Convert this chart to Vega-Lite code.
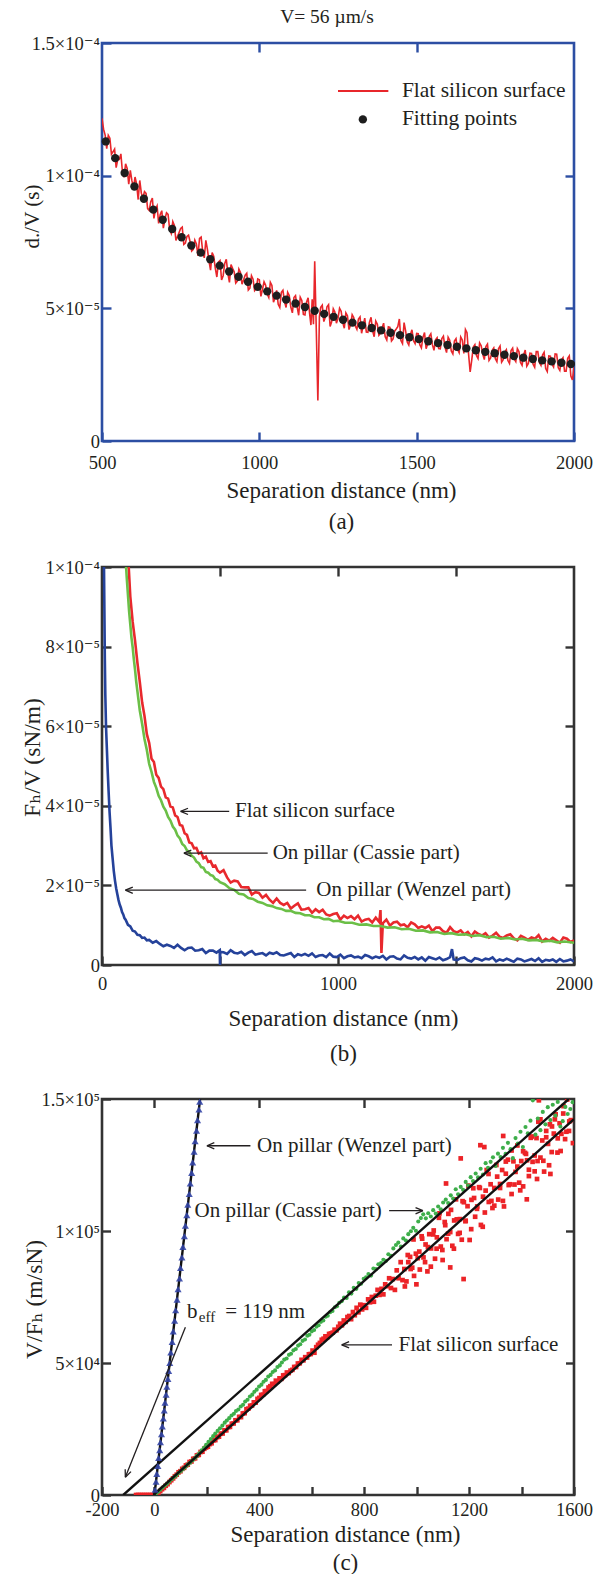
{
"$schema":"https://vega.github.io/schema/vega-lite/v6.json",
"padding":{"left":18,"top":5,"right":5,"bottom":5},
"background":"white",
"spacing":21,
"config":{
"font":"Liberation Serif, Times New Roman, DejaVu Serif, serif",
"view":{"stroke":"#333333","strokeWidth":2.6},
"axis":{"grid":false,"domain":false,"labelFont":"Liberation Serif, Times New Roman, DejaVu Serif, serif","titleFont":"Liberation Serif, Times New Roman, DejaVu Serif, serif","labelFontSize":18.5,"titleFontSize":23,"titleFontWeight":"normal","labelColor":"#231f20","titleColor":"#231f20","tickColor":"#333333","tickWidth":2.4,"tickSize":-9,"labelFlush":false,"labelOverlap":false},
"text":{"font":"Liberation Serif, Times New Roman, DejaVu Serif, serif","color":"#231f20"}
},
"datasets":{
"a_red":[{"d":500,"v":1.216e-4},{"d":505,"v":1.175e-4},{"d":510,"v":1.153e-4},{"d":515,"v":1.102e-4},{"d":520,"v":1.152e-4},{"d":525,"v":1.141e-4},{"d":530,"v":1.081e-4},{"d":535,"v":1.090e-4},{"d":540,"v":1.100e-4},{"d":545,"v":1.030e-4},{"d":550,"v":1.061e-4},{"d":555,"v":1.061e-4},{"d":560,"v":1.082e-4},{"d":565,"v":1.013e-4},{"d":570,"v":0.994e-4},{"d":575,"v":1.045e-4},{"d":580,"v":1.027e-4},{"d":585,"v":0.968e-4},{"d":590,"v":1.020e-4},{"d":595,"v":0.981e-4},{"d":600,"v":0.953e-4},{"d":605,"v":0.995e-4},{"d":610,"v":0.968e-4},{"d":615,"v":0.910e-4},{"d":620,"v":0.982e-4},{"d":625,"v":0.934e-4},{"d":630,"v":0.917e-4},{"d":635,"v":0.940e-4},{"d":640,"v":0.933e-4},{"d":645,"v":0.876e-4},{"d":650,"v":0.869e-4},{"d":655,"v":0.902e-4},{"d":660,"v":0.916e-4},{"d":665,"v":0.839e-4},{"d":670,"v":0.873e-4},{"d":675,"v":0.886e-4},{"d":680,"v":0.820e-4},{"d":685,"v":0.854e-4},{"d":690,"v":0.868e-4},{"d":695,"v":0.802e-4},{"d":700,"v":0.836e-4},{"d":705,"v":0.860e-4},{"d":710,"v":0.854e-4},{"d":715,"v":0.798e-4},{"d":720,"v":0.783e-4},{"d":725,"v":0.827e-4},{"d":730,"v":0.812e-4},{"d":735,"v":0.756e-4},{"d":740,"v":0.771e-4},{"d":745,"v":0.786e-4},{"d":750,"v":0.801e-4},{"d":755,"v":0.806e-4},{"d":760,"v":0.741e-4},{"d":765,"v":0.746e-4},{"d":770,"v":0.771e-4},{"d":775,"v":0.776e-4},{"d":780,"v":0.751e-4},{"d":785,"v":0.716e-4},{"d":790,"v":0.722e-4},{"d":795,"v":0.757e-4},{"d":800,"v":0.743e-4},{"d":805,"v":0.698e-4},{"d":810,"v":0.764e-4},{"d":815,"v":0.769e-4},{"d":820,"v":0.715e-4},{"d":825,"v":0.690e-4},{"d":830,"v":0.756e-4},{"d":835,"v":0.722e-4},{"d":840,"v":0.678e-4},{"d":845,"v":0.644e-4},{"d":850,"v":0.710e-4},{"d":855,"v":0.696e-4},{"d":860,"v":0.652e-4},{"d":865,"v":0.618e-4},{"d":870,"v":0.674e-4},{"d":875,"v":0.680e-4},{"d":880,"v":0.607e-4},{"d":885,"v":0.623e-4},{"d":890,"v":0.669e-4},{"d":895,"v":0.685e-4},{"d":900,"v":0.632e-4},{"d":905,"v":0.598e-4},{"d":910,"v":0.665e-4},{"d":915,"v":0.651e-4},{"d":920,"v":0.638e-4},{"d":925,"v":0.595e-4},{"d":930,"v":0.602e-4},{"d":935,"v":0.648e-4},{"d":940,"v":0.635e-4},{"d":945,"v":0.591e-4},{"d":950,"v":0.608e-4},{"d":955,"v":0.625e-4},{"d":960,"v":0.632e-4},{"d":965,"v":0.569e-4},{"d":970,"v":0.576e-4},{"d":975,"v":0.623e-4},{"d":980,"v":0.610e-4},{"d":985,"v":0.567e-4},{"d":990,"v":0.574e-4},{"d":995,"v":0.611e-4},{"d":1000,"v":0.608e-4},{"d":1005,"v":0.545e-4},{"d":1010,"v":0.572e-4},{"d":1015,"v":0.600e-4},{"d":1020,"v":0.587e-4},{"d":1025,"v":0.554e-4},{"d":1030,"v":0.541e-4},{"d":1035,"v":0.598e-4},{"d":1040,"v":0.586e-4},{"d":1045,"v":0.523e-4},{"d":1050,"v":0.540e-4},{"d":1055,"v":0.568e-4},{"d":1060,"v":0.515e-4},{"d":1065,"v":0.503e-4},{"d":1070,"v":0.560e-4},{"d":1075,"v":0.568e-4},{"d":1080,"v":0.525e-4},{"d":1085,"v":0.503e-4},{"d":1090,"v":0.560e-4},{"d":1095,"v":0.548e-4},{"d":1100,"v":0.505e-4},{"d":1105,"v":0.483e-4},{"d":1110,"v":0.541e-4},{"d":1115,"v":0.548e-4},{"d":1120,"v":0.506e-4},{"d":1125,"v":0.474e-4},{"d":1130,"v":0.542e-4},{"d":1135,"v":0.530e-4},{"d":1140,"v":0.477e-4},{"d":1145,"v":0.475e-4},{"d":1150,"v":0.523e-4},{"d":1155,"v":0.540e-4},{"d":1160,"v":0.478e-4},{"d":1164,"v":0.437e-4},{"d":1168,"v":0.534e-4},{"d":1172,"v":0.440e-4},{"d":1176,"v":0.677e-4},{"d":1181,"v":0.420e-4},{"d":1186,"v":0.153e-4},{"d":1191,"v":0.470e-4},{"d":1195,"v":0.504e-4},{"d":1200,"v":0.512e-4},{"d":1205,"v":0.450e-4},{"d":1210,"v":0.468e-4},{"d":1215,"v":0.506e-4},{"d":1220,"v":0.514e-4},{"d":1225,"v":0.432e-4},{"d":1230,"v":0.450e-4},{"d":1235,"v":0.498e-4},{"d":1240,"v":0.486e-4},{"d":1245,"v":0.444e-4},{"d":1250,"v":0.462e-4},{"d":1255,"v":0.500e-4},{"d":1260,"v":0.489e-4},{"d":1265,"v":0.447e-4},{"d":1270,"v":0.425e-4},{"d":1275,"v":0.483e-4},{"d":1280,"v":0.472e-4},{"d":1285,"v":0.420e-4},{"d":1290,"v":0.438e-4},{"d":1295,"v":0.476e-4},{"d":1300,"v":0.465e-4},{"d":1305,"v":0.433e-4},{"d":1310,"v":0.421e-4},{"d":1315,"v":0.460e-4},{"d":1320,"v":0.468e-4},{"d":1325,"v":0.406e-4},{"d":1330,"v":0.435e-4},{"d":1335,"v":0.463e-4},{"d":1340,"v":0.411e-4},{"d":1345,"v":0.410e-4},{"d":1350,"v":0.448e-4},{"d":1355,"v":0.466e-4},{"d":1360,"v":0.415e-4},{"d":1365,"v":0.393e-4},{"d":1370,"v":0.452e-4},{"d":1375,"v":0.440e-4},{"d":1380,"v":0.399e-4},{"d":1385,"v":0.407e-4},{"d":1390,"v":0.426e-4},{"d":1395,"v":0.444e-4},{"d":1400,"v":0.393e-4},{"d":1405,"v":0.381e-4},{"d":1410,"v":0.430e-4},{"d":1415,"v":0.428e-4},{"d":1420,"v":0.377e-4},{"d":1425,"v":0.385e-4},{"d":1430,"v":0.414e-4},{"d":1435,"v":0.422e-4},{"d":1440,"v":0.431e-4},{"d":1445,"v":0.460e-4},{"d":1450,"v":0.379e-4},{"d":1455,"v":0.367e-4},{"d":1460,"v":0.446e-4},{"d":1465,"v":0.414e-4},{"d":1470,"v":0.373e-4},{"d":1475,"v":0.362e-4},{"d":1480,"v":0.401e-4},{"d":1485,"v":0.419e-4},{"d":1490,"v":0.378e-4},{"d":1495,"v":0.367e-4},{"d":1500,"v":0.405e-4},{"d":1505,"v":0.404e-4},{"d":1510,"v":0.363e-4},{"d":1515,"v":0.351e-4},{"d":1520,"v":0.390e-4},{"d":1525,"v":0.409e-4},{"d":1530,"v":0.348e-4},{"d":1535,"v":0.366e-4},{"d":1540,"v":0.395e-4},{"d":1545,"v":0.404e-4},{"d":1550,"v":0.363e-4},{"d":1555,"v":0.342e-4},{"d":1560,"v":0.381e-4},{"d":1565,"v":0.389e-4},{"d":1570,"v":0.348e-4},{"d":1575,"v":0.347e-4},{"d":1580,"v":0.386e-4},{"d":1585,"v":0.395e-4},{"d":1590,"v":0.354e-4},{"d":1595,"v":0.333e-4},{"d":1600,"v":0.391e-4},{"d":1605,"v":0.380e-4},{"d":1610,"v":0.339e-4},{"d":1615,"v":0.328e-4},{"d":1620,"v":0.377e-4},{"d":1625,"v":0.386e-4},{"d":1630,"v":0.345e-4},{"d":1635,"v":0.333e-4},{"d":1640,"v":0.392e-4},{"d":1645,"v":0.381e-4},{"d":1650,"v":0.330e-4},{"d":1655,"v":0.420e-4},{"d":1660,"v":0.408e-4},{"d":1665,"v":0.327e-4},{"d":1670,"v":0.260e-4},{"d":1675,"v":0.305e-4},{"d":1680,"v":0.354e-4},{"d":1685,"v":0.363e-4},{"d":1690,"v":0.322e-4},{"d":1695,"v":0.311e-4},{"d":1700,"v":0.370e-4},{"d":1705,"v":0.359e-4},{"d":1710,"v":0.328e-4},{"d":1715,"v":0.307e-4},{"d":1720,"v":0.356e-4},{"d":1725,"v":0.365e-4},{"d":1730,"v":0.304e-4},{"d":1735,"v":0.313e-4},{"d":1740,"v":0.342e-4},{"d":1745,"v":0.351e-4},{"d":1750,"v":0.310e-4},{"d":1755,"v":0.299e-4},{"d":1760,"v":0.348e-4},{"d":1765,"v":0.358e-4},{"d":1770,"v":0.297e-4},{"d":1775,"v":0.306e-4},{"d":1780,"v":0.335e-4},{"d":1785,"v":0.344e-4},{"d":1790,"v":0.303e-4},{"d":1795,"v":0.292e-4},{"d":1800,"v":0.341e-4},{"d":1805,"v":0.350e-4},{"d":1810,"v":0.309e-4},{"d":1815,"v":0.299e-4},{"d":1820,"v":0.348e-4},{"d":1825,"v":0.337e-4},{"d":1830,"v":0.296e-4},{"d":1835,"v":0.285e-4},{"d":1840,"v":0.324e-4},{"d":1845,"v":0.343e-4},{"d":1850,"v":0.282e-4},{"d":1855,"v":0.292e-4},{"d":1860,"v":0.331e-4},{"d":1865,"v":0.330e-4},{"d":1870,"v":0.289e-4},{"d":1875,"v":0.278e-4},{"d":1880,"v":0.337e-4},{"d":1885,"v":0.337e-4},{"d":1890,"v":0.296e-4},{"d":1895,"v":0.285e-4},{"d":1900,"v":0.324e-4},{"d":1905,"v":0.334e-4},{"d":1910,"v":0.273e-4},{"d":1915,"v":0.262e-4},{"d":1920,"v":0.321e-4},{"d":1925,"v":0.320e-4},{"d":1930,"v":0.289e-4},{"d":1935,"v":0.279e-4},{"d":1940,"v":0.328e-4},{"d":1945,"v":0.327e-4},{"d":1950,"v":0.276e-4},{"d":1955,"v":0.266e-4},{"d":1960,"v":0.305e-4},{"d":1965,"v":0.314e-4},{"d":1970,"v":0.263e-4},{"d":1975,"v":0.263e-4},{"d":1980,"v":0.312e-4},{"d":1985,"v":0.321e-4},{"d":1990,"v":0.245e-4},{"d":1995,"v":0.230e-4},{"d":2000,"v":0.279e-4}],
"a_fit":[{"d":512,"v":1.129e-4},{"d":542,"v":1.066e-4},{"d":572,"v":1.010e-4},{"d":603,"v":0.959e-4},{"d":633,"v":0.913e-4},{"d":663,"v":0.872e-4},{"d":693,"v":0.834e-4},{"d":723,"v":0.799e-4},{"d":753,"v":0.768e-4},{"d":784,"v":0.737e-4},{"d":814,"v":0.710e-4},{"d":844,"v":0.685e-4},{"d":874,"v":0.661e-4},{"d":904,"v":0.639e-4},{"d":934,"v":0.619e-4},{"d":964,"v":0.600e-4},{"d":995,"v":0.581e-4},{"d":1025,"v":0.564e-4},{"d":1055,"v":0.548e-4},{"d":1085,"v":0.533e-4},{"d":1115,"v":0.518e-4},{"d":1145,"v":0.505e-4},{"d":1176,"v":0.491e-4},{"d":1206,"v":0.479e-4},{"d":1236,"v":0.468e-4},{"d":1266,"v":0.457e-4},{"d":1296,"v":0.446e-4},{"d":1326,"v":0.436e-4},{"d":1357,"v":0.426e-4},{"d":1387,"v":0.417e-4},{"d":1417,"v":0.408e-4},{"d":1447,"v":0.399e-4},{"d":1477,"v":0.391e-4},{"d":1507,"v":0.384e-4},{"d":1537,"v":0.376e-4},{"d":1568,"v":0.369e-4},{"d":1598,"v":0.362e-4},{"d":1628,"v":0.355e-4},{"d":1658,"v":0.349e-4},{"d":1688,"v":0.342e-4},{"d":1718,"v":0.336e-4},{"d":1748,"v":0.331e-4},{"d":1779,"v":0.325e-4},{"d":1809,"v":0.320e-4},{"d":1839,"v":0.314e-4},{"d":1869,"v":0.309e-4},{"d":1899,"v":0.304e-4},{"d":1929,"v":0.300e-4},{"d":1960,"v":0.295e-4},{"d":1990,"v":0.290e-4}],
"b_flat":[{"d":110,"v":1.035e-4},{"d":120,"v":0.925e-4},{"d":130,"v":0.862e-4},{"d":140,"v":0.815e-4},{"d":150,"v":0.760e-4},{"d":160,"v":0.712e-4},{"d":170,"v":0.660e-4},{"d":180,"v":0.626e-4},{"d":190,"v":0.580e-4},{"d":200,"v":0.558e-4},{"d":210,"v":0.518e-4},{"d":220,"v":0.510e-4},{"d":230,"v":0.478e-4},{"d":240,"v":0.470e-4},{"d":250,"v":0.448e-4},{"d":260,"v":0.442e-4},{"d":270,"v":0.421e-4},{"d":280,"v":0.418e-4},{"d":290,"v":0.398e-4},{"d":300,"v":0.396e-4},{"d":310,"v":0.376e-4},{"d":320,"v":0.372e-4},{"d":330,"v":0.352e-4},{"d":340,"v":0.350e-4},{"d":350,"v":0.331e-4},{"d":360,"v":0.327e-4},{"d":370,"v":0.308e-4},{"d":380,"v":0.306e-4},{"d":390,"v":0.293e-4},{"d":400,"v":0.294e-4},{"d":410,"v":0.280e-4},{"d":420,"v":0.283e-4},{"d":430,"v":0.268e-4},{"d":440,"v":0.272e-4},{"d":450,"v":0.259e-4},{"d":460,"v":0.261e-4},{"d":470,"v":0.248e-4},{"d":480,"v":0.250e-4},{"d":490,"v":0.237e-4},{"d":500,"v":0.232e-4},{"d":515,"v":0.238e-4},{"d":530,"v":0.220e-4},{"d":545,"v":0.207e-4},{"d":560,"v":0.212e-4},{"d":575,"v":0.210e-4},{"d":590,"v":0.196e-4},{"d":605,"v":0.195e-4},{"d":620,"v":0.195e-4},{"d":635,"v":0.177e-4},{"d":650,"v":0.183e-4},{"d":665,"v":0.181e-4},{"d":680,"v":0.169e-4},{"d":695,"v":0.176e-4},{"d":710,"v":0.164e-4},{"d":725,"v":0.156e-4},{"d":740,"v":0.167e-4},{"d":755,"v":0.156e-4},{"d":770,"v":0.151e-4},{"d":785,"v":0.156e-4},{"d":800,"v":0.142e-4},{"d":815,"v":0.149e-4},{"d":830,"v":0.155e-4},{"d":845,"v":0.139e-4},{"d":860,"v":0.140e-4},{"d":875,"v":0.143e-4},{"d":890,"v":0.131e-4},{"d":905,"v":0.140e-4},{"d":920,"v":0.133e-4},{"d":935,"v":0.139e-4},{"d":950,"v":0.127e-4},{"d":965,"v":0.124e-4},{"d":980,"v":0.128e-4},{"d":995,"v":0.130e-4},{"d":1010,"v":0.114e-4},{"d":1025,"v":0.124e-4},{"d":1040,"v":0.118e-4},{"d":1055,"v":0.123e-4},{"d":1070,"v":0.115e-4},{"d":1085,"v":0.124e-4},{"d":1100,"v":0.109e-4},{"d":1115,"v":0.114e-4},{"d":1130,"v":0.116e-4},{"d":1145,"v":0.107e-4},{"d":1160,"v":0.119e-4},{"d":1175,"v":0.108e-4},{"d":1180,"v":0.138e-4},{"d":1184,"v":0.030e-4},{"d":1190,"v":0.105e-4},{"d":1205,"v":0.114e-4},{"d":1220,"v":0.099e-4},{"d":1235,"v":0.107e-4},{"d":1250,"v":0.109e-4},{"d":1265,"v":0.100e-4},{"d":1280,"v":0.102e-4},{"d":1295,"v":0.095e-4},{"d":1310,"v":0.107e-4},{"d":1325,"v":0.102e-4},{"d":1340,"v":0.093e-4},{"d":1355,"v":0.097e-4},{"d":1370,"v":0.093e-4},{"d":1385,"v":0.099e-4},{"d":1400,"v":0.085e-4},{"d":1415,"v":0.094e-4},{"d":1430,"v":0.094e-4},{"d":1445,"v":0.085e-4},{"d":1460,"v":0.081e-4},{"d":1475,"v":0.095e-4},{"d":1490,"v":0.085e-4},{"d":1505,"v":0.082e-4},{"d":1520,"v":0.087e-4},{"d":1535,"v":0.077e-4},{"d":1550,"v":0.083e-4},{"d":1565,"v":0.072e-4},{"d":1580,"v":0.084e-4},{"d":1595,"v":0.078e-4},{"d":1610,"v":0.074e-4},{"d":1625,"v":0.080e-4},{"d":1640,"v":0.069e-4},{"d":1655,"v":0.074e-4},{"d":1670,"v":0.081e-4},{"d":1685,"v":0.071e-4},{"d":1700,"v":0.068e-4},{"d":1715,"v":0.074e-4},{"d":1730,"v":0.077e-4},{"d":1745,"v":0.067e-4},{"d":1760,"v":0.062e-4},{"d":1775,"v":0.073e-4},{"d":1790,"v":0.069e-4},{"d":1805,"v":0.063e-4},{"d":1820,"v":0.069e-4},{"d":1835,"v":0.066e-4},{"d":1850,"v":0.075e-4},{"d":1865,"v":0.059e-4},{"d":1880,"v":0.066e-4},{"d":1895,"v":0.061e-4},{"d":1910,"v":0.068e-4},{"d":1925,"v":0.062e-4},{"d":1940,"v":0.056e-4},{"d":1955,"v":0.069e-4},{"d":1970,"v":0.066e-4},{"d":1985,"v":0.058e-4},{"d":2000,"v":0.062e-4}],
"b_cassie":[{"d":100,"v":1.02e-4},{"d":105,"v":0.972e-4},{"d":110,"v":0.930e-4},{"d":115,"v":0.888e-4},{"d":120,"v":0.855e-4},{"d":125,"v":0.822e-4},{"d":130,"v":0.798e-4},{"d":135,"v":0.768e-4},{"d":140,"v":0.742e-4},{"d":145,"v":0.712e-4},{"d":150,"v":0.688e-4},{"d":160,"v":0.640e-4},{"d":170,"v":0.606e-4},{"d":180,"v":0.568e-4},{"d":190,"v":0.540e-4},{"d":200,"v":0.505e-4},{"d":210,"v":0.485e-4},{"d":220,"v":0.460e-4},{"d":230,"v":0.445e-4},{"d":240,"v":0.425e-4},{"d":250,"v":0.414e-4},{"d":260,"v":0.398e-4},{"d":270,"v":0.388e-4},{"d":280,"v":0.372e-4},{"d":290,"v":0.363e-4},{"d":300,"v":0.348e-4},{"d":310,"v":0.340e-4},{"d":320,"v":0.325e-4},{"d":330,"v":0.318e-4},{"d":340,"v":0.304e-4},{"d":350,"v":0.299e-4},{"d":360,"v":0.288e-4},{"d":370,"v":0.284e-4},{"d":380,"v":0.274e-4},{"d":390,"v":0.270e-4},{"d":400,"v":0.260e-4},{"d":410,"v":0.256e-4},{"d":420,"v":0.246e-4},{"d":430,"v":0.244e-4},{"d":440,"v":0.234e-4},{"d":450,"v":0.232e-4},{"d":460,"v":0.226e-4},{"d":470,"v":0.224e-4},{"d":480,"v":0.216e-4},{"d":490,"v":0.214e-4},{"d":500,"v":0.208e-4},{"d":520,"v":0.203e-4},{"d":540,"v":0.193e-4},{"d":560,"v":0.189e-4},{"d":580,"v":0.179e-4},{"d":600,"v":0.177e-4},{"d":620,"v":0.168e-4},{"d":640,"v":0.166e-4},{"d":660,"v":0.159e-4},{"d":680,"v":0.156e-4},{"d":700,"v":0.150e-4},{"d":720,"v":0.148e-4},{"d":740,"v":0.143e-4},{"d":760,"v":0.141e-4},{"d":780,"v":0.136e-4},{"d":800,"v":0.136e-4},{"d":820,"v":0.131e-4},{"d":840,"v":0.130e-4},{"d":860,"v":0.125e-4},{"d":880,"v":0.125e-4},{"d":900,"v":0.120e-4},{"d":920,"v":0.120e-4},{"d":940,"v":0.115e-4},{"d":960,"v":0.116e-4},{"d":980,"v":0.110e-4},{"d":1000,"v":0.111e-4},{"d":1030,"v":0.106e-4},{"d":1060,"v":0.106e-4},{"d":1090,"v":0.101e-4},{"d":1120,"v":0.102e-4},{"d":1150,"v":0.098e-4},{"d":1180,"v":0.098e-4},{"d":1210,"v":0.094e-4},{"d":1240,"v":0.095e-4},{"d":1270,"v":0.090e-4},{"d":1300,"v":0.091e-4},{"d":1330,"v":0.086e-4},{"d":1360,"v":0.087e-4},{"d":1390,"v":0.082e-4},{"d":1420,"v":0.083e-4},{"d":1450,"v":0.078e-4},{"d":1480,"v":0.080e-4},{"d":1510,"v":0.076e-4},{"d":1540,"v":0.077e-4},{"d":1570,"v":0.073e-4},{"d":1600,"v":0.075e-4},{"d":1630,"v":0.070e-4},{"d":1660,"v":0.071e-4},{"d":1690,"v":0.066e-4},{"d":1720,"v":0.068e-4},{"d":1750,"v":0.064e-4},{"d":1780,"v":0.066e-4},{"d":1810,"v":0.062e-4},{"d":1840,"v":0.063e-4},{"d":1870,"v":0.059e-4},{"d":1900,"v":0.061e-4},{"d":1930,"v":0.057e-4},{"d":1960,"v":0.059e-4},{"d":2000,"v":0.056e-4}],
"b_wenzel":[{"d":8,"v":1.03e-4},{"d":10,"v":0.90e-4},{"d":12,"v":0.77e-4},{"d":14,"v":0.68e-4},{"d":17,"v":0.60e-4},{"d":20,"v":0.553e-4},{"d":24,"v":0.49e-4},{"d":28,"v":0.436e-4},{"d":32,"v":0.385e-4},{"d":36,"v":0.345e-4},{"d":40,"v":0.300e-4},{"d":45,"v":0.268e-4},{"d":50,"v":0.236e-4},{"d":55,"v":0.212e-4},{"d":60,"v":0.193e-4},{"d":65,"v":0.178e-4},{"d":70,"v":0.163e-4},{"d":75,"v":0.152e-4},{"d":80,"v":0.144e-4},{"d":85,"v":0.133e-4},{"d":90,"v":0.127e-4},{"d":95,"v":0.118e-4},{"d":100,"v":0.114e-4},{"d":110,"v":0.101e-4},{"d":120,"v":0.097e-4},{"d":130,"v":0.086e-4},{"d":140,"v":0.084e-4},{"d":150,"v":0.076e-4},{"d":160,"v":0.075e-4},{"d":170,"v":0.068e-4},{"d":180,"v":0.069e-4},{"d":190,"v":0.062e-4},{"d":200,"v":0.063e-4},{"d":215,"v":0.056e-4},{"d":230,"v":0.060e-4},{"d":245,"v":0.053e-4},{"d":260,"v":0.047e-4},{"d":275,"v":0.051e-4},{"d":290,"v":0.048e-4},{"d":305,"v":0.043e-4},{"d":320,"v":0.051e-4},{"d":335,"v":0.043e-4},{"d":350,"v":0.037e-4},{"d":365,"v":0.043e-4},{"d":380,"v":0.044e-4},{"d":395,"v":0.036e-4},{"d":410,"v":0.037e-4},{"d":425,"v":0.040e-4},{"d":440,"v":0.030e-4},{"d":455,"v":0.036e-4},{"d":470,"v":0.036e-4},{"d":485,"v":0.031e-4},{"d":499,"v":0.037e-4},{"d":500,"v":0.000e-4},{"d":501,"v":0.033e-4},{"d":515,"v":0.032e-4},{"d":530,"v":0.028e-4},{"d":545,"v":0.037e-4},{"d":560,"v":0.031e-4},{"d":575,"v":0.029e-4},{"d":590,"v":0.033e-4},{"d":605,"v":0.025e-4},{"d":620,"v":0.031e-4},{"d":635,"v":0.035e-4},{"d":650,"v":0.026e-4},{"d":665,"v":0.028e-4},{"d":680,"v":0.030e-4},{"d":695,"v":0.024e-4},{"d":710,"v":0.031e-4},{"d":725,"v":0.028e-4},{"d":740,"v":0.032e-4},{"d":755,"v":0.025e-4},{"d":770,"v":0.024e-4},{"d":785,"v":0.027e-4},{"d":800,"v":0.030e-4},{"d":815,"v":0.020e-4},{"d":830,"v":0.027e-4},{"d":845,"v":0.024e-4},{"d":860,"v":0.028e-4},{"d":875,"v":0.023e-4},{"d":890,"v":0.029e-4},{"d":905,"v":0.020e-4},{"d":920,"v":0.024e-4},{"d":935,"v":0.025e-4},{"d":950,"v":0.020e-4},{"d":965,"v":0.029e-4},{"d":980,"v":0.021e-4},{"d":995,"v":0.020e-4},{"d":1010,"v":0.026e-4},{"d":1025,"v":0.017e-4},{"d":1040,"v":0.022e-4},{"d":1055,"v":0.024e-4},{"d":1070,"v":0.019e-4},{"d":1085,"v":0.021e-4},{"d":1100,"v":0.017e-4},{"d":1115,"v":0.025e-4},{"d":1130,"v":0.022e-4},{"d":1145,"v":0.017e-4},{"d":1160,"v":0.021e-4},{"d":1175,"v":0.018e-4},{"d":1190,"v":0.023e-4},{"d":1205,"v":0.014e-4},{"d":1220,"v":0.021e-4},{"d":1235,"v":0.022e-4},{"d":1250,"v":0.016e-4},{"d":1265,"v":0.014e-4},{"d":1280,"v":0.024e-4},{"d":1295,"v":0.018e-4},{"d":1310,"v":0.016e-4},{"d":1325,"v":0.020e-4},{"d":1340,"v":0.014e-4},{"d":1355,"v":0.019e-4},{"d":1370,"v":0.011e-4},{"d":1385,"v":0.020e-4},{"d":1400,"v":0.017e-4},{"d":1415,"v":0.014e-4},{"d":1430,"v":0.019e-4},{"d":1445,"v":0.012e-4},{"d":1460,"v":0.015e-4},{"d":1475,"v":0.020e-4},{"d":1483,"v":0.040e-4},{"d":1490,"v":0.014e-4},{"d":1505,"v":0.012e-4},{"d":1520,"v":0.017e-4},{"d":1535,"v":0.019e-4},{"d":1550,"v":0.012e-4},{"d":1565,"v":0.009e-4},{"d":1580,"v":0.017e-4},{"d":1595,"v":0.015e-4},{"d":1610,"v":0.011e-4},{"d":1625,"v":0.016e-4},{"d":1640,"v":0.014e-4},{"d":1655,"v":0.019e-4},{"d":1670,"v":0.009e-4},{"d":1685,"v":0.014e-4},{"d":1700,"v":0.011e-4},{"d":1715,"v":0.016e-4},{"d":1730,"v":0.012e-4},{"d":1745,"v":0.008e-4},{"d":1760,"v":0.016e-4},{"d":1775,"v":0.014e-4},{"d":1790,"v":0.009e-4},{"d":1805,"v":0.012e-4},{"d":1820,"v":0.015e-4},{"d":1835,"v":0.010e-4},{"d":1850,"v":0.017e-4},{"d":1865,"v":0.008e-4},{"d":1880,"v":0.013e-4},{"d":1895,"v":0.011e-4},{"d":1910,"v":0.014e-4},{"d":1925,"v":0.008e-4},{"d":1940,"v":0.015e-4},{"d":1955,"v":0.009e-4},{"d":1970,"v":0.011e-4},{"d":1985,"v":0.014e-4},{"d":2000,"v":0.009e-4}],
"c_red":[{"d":-70,"v":0},{"d":-62,"v":0},{"d":-54,"v":0},{"d":-46,"v":0},{"d":-38,"v":0},{"d":-30,"v":0},{"d":-22,"v":0},{"d":-14,"v":0},{"d":-6,"v":0},{"d":2,"v":0},{"d":8,"v":300},{"d":15,"v":900},{"d":22,"v":1500},{"d":29,"v":2200},{"d":36,"v":2700},{"d":43,"v":3500},{"d":50,"v":4100},{"d":57,"v":4900},{"d":64,"v":5600},{"d":71,"v":6300},{"d":78,"v":7100},{"d":85,"v":7700},{"d":92,"v":8600},{"d":99,"v":9000},{"d":106,"v":9900},{"d":113,"v":10300},{"d":120,"v":11200},{"d":127,"v":11500},{"d":134,"v":12500},{"d":141,"v":12700},{"d":148,"v":13700},{"d":155,"v":13900},{"d":162,"v":15000},{"d":169,"v":15200},{"d":176,"v":16300},{"d":183,"v":16400},{"d":190,"v":17500},{"d":197,"v":18000},{"d":204,"v":18300},{"d":211,"v":19300},{"d":218,"v":19600},{"d":225,"v":20700},{"d":232,"v":20800},{"d":239,"v":21900},{"d":246,"v":22100},{"d":253,"v":23200},{"d":260,"v":23300},{"d":267,"v":24500},{"d":274,"v":24500},{"d":281,"v":25700},{"d":288,"v":25800},{"d":295,"v":27000},{"d":302,"v":27100},{"d":309,"v":28300},{"d":316,"v":28300},{"d":323,"v":29600},{"d":330,"v":29500},{"d":337,"v":30900},{"d":344,"v":31000},{"d":351,"v":32500},{"d":358,"v":32700},{"d":365,"v":33800},{"d":372,"v":33900},{"d":379,"v":35100},{"d":386,"v":35000},{"d":393,"v":36400},{"d":400,"v":36800},{"d":407,"v":37900},{"d":414,"v":38000},{"d":421,"v":39300},{"d":428,"v":39400},{"d":435,"v":40700},{"d":442,"v":41200},{"d":449,"v":42100},{"d":456,"v":42000},{"d":463,"v":43300},{"d":470,"v":43000},{"d":477,"v":44200},{"d":484,"v":44000},{"d":491,"v":45300},{"d":498,"v":45400},{"d":505,"v":46400},{"d":512,"v":46200},{"d":519,"v":47100},{"d":526,"v":47400},{"d":533,"v":48500},{"d":540,"v":48500},{"d":547,"v":49800},{"d":554,"v":49900},{"d":561,"v":51200},{"d":568,"v":51000},{"d":575,"v":52200},{"d":582,"v":52100},{"d":589,"v":53300},{"d":596,"v":53400},{"d":603,"v":54700},{"d":610,"v":53900},{"d":617,"v":56000},{"d":624,"v":56900},{"d":631,"v":57600},{"d":638,"v":58800},{"d":645,"v":59200},{"d":652,"v":60100},{"d":659,"v":59800},{"d":666,"v":61000},{"d":673,"v":61200},{"d":680,"v":61500},{"d":687,"v":62600},{"d":694,"v":62400},{"d":701,"v":63700},{"d":708,"v":64900},{"d":715,"v":64300},{"d":722,"v":66100},{"d":729,"v":65600},{"d":736,"v":67400},{"d":743,"v":67800},{"d":750,"v":66600},{"d":757,"v":69300},{"d":764,"v":68100},{"d":771,"v":70900},{"d":778,"v":69200},{"d":785,"v":72100},{"d":792,"v":70300},{"d":800,"v":71900},{"d":807,"v":70900},{"d":815,"v":74100},{"d":822,"v":73000},{"d":829,"v":75000},{"d":837,"v":73200},{"d":844,"v":75500},{"d":851,"v":77700},{"d":858,"v":75800},{"d":866,"v":78100},{"d":873,"v":76000},{"d":880,"v":79800},{"d":888,"v":79100},{"d":895,"v":82100},{"d":902,"v":78400},{"d":909,"v":81800},{"d":917,"v":77700},{"d":924,"v":85100},{"d":931,"v":82100},{"d":939,"v":88200},{"d":946,"v":81400},{"d":953,"v":85600},{"d":955,"v":79000},{"d":961,"v":80900},{"d":966,"v":90900},{"d":968,"v":88200},{"d":975,"v":90200},{"d":977,"v":85600},{"d":983,"v":86100},{"d":988,"v":96800},{"d":990,"v":83000},{"d":997,"v":91400},{"d":999,"v":79800},{"d":1004,"v":89700},{"d":1010,"v":92200},{"d":1012,"v":85400},{"d":1019,"v":98000},{"d":1021,"v":97100},{"d":1026,"v":90000},{"d":1032,"v":88200},{"d":1034,"v":94900},{"d":1041,"v":84700},{"d":1043,"v":93900},{"d":1048,"v":98800},{"d":1054,"v":86500},{"d":1055,"v":93400},{"d":1063,"v":98700},{"d":1065,"v":100200},{"d":1070,"v":89500},{"d":1076,"v":93300},{"d":1077,"v":97600},{"d":1085,"v":105000},{"d":1087,"v":106700},{"d":1092,"v":94100},{"d":1098,"v":92800},{"d":1099,"v":89000},{"d":1107,"v":103400},{"d":1109,"v":102200},{"d":1112,"v":118000},{"d":1114,"v":96900},{"d":1120,"v":99000},{"d":1121,"v":106500},{"d":1128,"v":99600},{"d":1128,"v":86200},{"d":1131,"v":108000},{"d":1136,"v":94400},{"d":1142,"v":93300},{"d":1143,"v":104000},{"d":1150,"v":112000},{"d":1153,"v":104400},{"d":1158,"v":98900},{"d":1164,"v":99300},{"d":1165,"v":104500},{"d":1168,"v":127500},{"d":1172,"v":96700},{"d":1175,"v":111300},{"d":1179,"v":81800},{"d":1180,"v":110900},{"d":1186,"v":103700},{"d":1187,"v":103900},{"d":1194,"v":109400},{"d":1197,"v":117200},{"d":1202,"v":96600},{"d":1208,"v":100700},{"d":1209,"v":111800},{"d":1216,"v":116200},{"d":1219,"v":112500},{"d":1223,"v":105400},{"d":1230,"v":108400},{"d":1231,"v":109300},{"d":1238,"v":116600},{"d":1241,"v":116300},{"d":1243,"v":132500},{"d":1245,"v":102300},{"d":1252,"v":101600},{"d":1253,"v":113000},{"d":1258,"v":131800},{"d":1260,"v":107000},{"d":1263,"v":115300},{"d":1267,"v":123100},{"d":1274,"v":121600},{"d":1275,"v":111000},{"d":1282,"v":117700},{"d":1285,"v":111400},{"d":1289,"v":108700},{"d":1296,"v":116300},{"d":1296,"v":109600},{"d":1304,"v":125000},{"d":1307,"v":120600},{"d":1311,"v":111900},{"d":1318,"v":116300},{"d":1318,"v":117800},{"d":1326,"v":123100},{"d":1329,"v":111400},{"d":1330,"v":136000},{"d":1333,"v":109300},{"d":1340,"v":121700},{"d":1340,"v":126300},{"d":1348,"v":127000},{"d":1351,"v":117400},{"d":1355,"v":117700},{"d":1362,"v":114000},{"d":1362,"v":130500},{"d":1369,"v":126400},{"d":1373,"v":117600},{"d":1377,"v":122400},{"d":1384,"v":132400},{"d":1384,"v":124400},{"d":1391,"v":118300},{"d":1395,"v":115400},{"d":1399,"v":126500},{"d":1406,"v":116900},{"d":1406,"v":130200},{"d":1413,"v":129600},{"d":1417,"v":129200},{"d":1420,"v":112000},{"d":1421,"v":126800},{"d":1428,"v":123200},{"d":1428,"v":120800},{"d":1435,"v":135300},{"d":1439,"v":135800},{"d":1442,"v":126200},{"d":1450,"v":122600},{"d":1450,"v":128600},{"d":1457,"v":135200},{"d":1459,"v":119700},{"d":1461,"v":126500},{"d":1464,"v":141400},{"d":1466,"v":149500},{"d":1472,"v":127800},{"d":1472,"v":142300},{"d":1479,"v":134300},{"d":1483,"v":126600},{"d":1486,"v":122500},{"d":1494,"v":137900},{"d":1494,"v":135500},{"d":1501,"v":133000},{"d":1505,"v":124900},{"d":1508,"v":140400},{"d":1510,"v":121600},{"d":1515,"v":129900},{"d":1516,"v":139600},{"d":1523,"v":136900},{"d":1527,"v":142300},{"d":1530,"v":144200},{"d":1537,"v":129700},{"d":1538,"v":135100},{"d":1545,"v":140800},{"d":1549,"v":130300},{"d":1552,"v":136800},{"d":1559,"v":144500},{"d":1560,"v":147300},{"d":1566,"v":134800},{"d":1571,"v":137600},{"d":1574,"v":149800},{"d":1581,"v":137900},{"d":1582,"v":141500},{"d":1588,"v":142000},{"d":1596,"v":133300}],
"c_green":[{"d":5,"v":400},{"d":14,"v":1200},{"d":22,"v":2000},{"d":31,"v":2800},{"d":40,"v":3600},{"d":48,"v":4300},{"d":57,"v":5100},{"d":66,"v":6000},{"d":75,"v":6800},{"d":83,"v":7400},{"d":92,"v":8300},{"d":101,"v":9100},{"d":110,"v":9900},{"d":118,"v":10600},{"d":127,"v":11500},{"d":136,"v":12200},{"d":145,"v":13100},{"d":154,"v":13900},{"d":162,"v":14800},{"d":171,"v":15800},{"d":180,"v":16900},{"d":189,"v":17900},{"d":197,"v":19000},{"d":206,"v":20100},{"d":215,"v":21200},{"d":224,"v":22300},{"d":232,"v":23300},{"d":241,"v":24300},{"d":250,"v":25300},{"d":259,"v":26300},{"d":268,"v":27400},{"d":276,"v":28200},{"d":285,"v":29100},{"d":294,"v":30100},{"d":303,"v":30800},{"d":311,"v":31800},{"d":320,"v":32400},{"d":329,"v":33500},{"d":338,"v":34200},{"d":346,"v":35400},{"d":355,"v":36100},{"d":364,"v":37300},{"d":373,"v":38000},{"d":381,"v":39100},{"d":390,"v":39900},{"d":399,"v":41100},{"d":408,"v":41800},{"d":416,"v":42900},{"d":425,"v":43600},{"d":434,"v":44900},{"d":443,"v":45500},{"d":451,"v":46600},{"d":460,"v":47200},{"d":469,"v":48500},{"d":478,"v":49100},{"d":486,"v":50200},{"d":495,"v":51300},{"d":504,"v":51700},{"d":513,"v":53100},{"d":521,"v":53500},{"d":530,"v":54800},{"d":539,"v":55300},{"d":548,"v":56600},{"d":556,"v":57100},{"d":565,"v":58400},{"d":574,"v":58900},{"d":583,"v":60300},{"d":591,"v":60700},{"d":600,"v":62000},{"d":609,"v":62500},{"d":618,"v":63800},{"d":626,"v":64300},{"d":635,"v":65600},{"d":644,"v":66100},{"d":653,"v":67500},{"d":661,"v":67900},{"d":670,"v":69200},{"d":679,"v":69700},{"d":688,"v":71100},{"d":696,"v":71500},{"d":705,"v":72800},{"d":714,"v":73400},{"d":723,"v":74800},{"d":733,"v":74600},{"d":742,"v":76800},{"d":751,"v":76300},{"d":760,"v":78500},{"d":770,"v":78100},{"d":779,"v":80300},{"d":788,"v":80000},{"d":798,"v":81900},{"d":807,"v":82500},{"d":816,"v":83700},{"d":826,"v":83100},{"d":835,"v":85800},{"d":845,"v":85600},{"d":854,"v":87400},{"d":864,"v":87900},{"d":873,"v":89100},{"d":883,"v":88700},{"d":892,"v":91200},{"d":902,"v":90600},{"d":911,"v":93400},{"d":921,"v":94700},{"d":930,"v":95600},{"d":940,"v":94100},{"d":949,"v":97200},{"d":959,"v":96400},{"d":968,"v":98800},{"d":978,"v":99900},{"d":987,"v":101200},{"d":997,"v":100100},{"d":1006,"v":103600},{"d":1016,"v":104900},{"d":1025,"v":106300},{"d":1035,"v":104800},{"d":1044,"v":106700},{"d":1054,"v":105500},{"d":1063,"v":107900},{"d":1073,"v":106600},{"d":1082,"v":109300},{"d":1092,"v":108200},{"d":1101,"v":110800},{"d":1111,"v":111900},{"d":1120,"v":110600},{"d":1130,"v":113500},{"d":1139,"v":112300},{"d":1149,"v":115800},{"d":1158,"v":113900},{"d":1168,"v":116700},{"d":1177,"v":115600},{"d":1187,"v":118600},{"d":1196,"v":117200},{"d":1206,"v":120400},{"d":1215,"v":118900},{"d":1225,"v":121800},{"d":1234,"v":120300},{"d":1244,"v":123600},{"d":1253,"v":121400},{"d":1263,"v":125700},{"d":1272,"v":123900},{"d":1282,"v":126200},{"d":1291,"v":127900},{"d":1301,"v":124600},{"d":1310,"v":129300},{"d":1320,"v":128000},{"d":1329,"v":131500},{"d":1339,"v":129200},{"d":1348,"v":133400},{"d":1358,"v":131000},{"d":1367,"v":127600},{"d":1377,"v":135200},{"d":1386,"v":133100},{"d":1396,"v":137600},{"d":1405,"v":131800},{"d":1415,"v":139400},{"d":1424,"v":137000},{"d":1434,"v":141800},{"d":1443,"v":149500},{"d":1453,"v":136500},{"d":1462,"v":142600},{"d":1472,"v":138200},{"d":1481,"v":145100},{"d":1491,"v":140400},{"d":1500,"v":146900},{"d":1510,"v":142000},{"d":1519,"v":147800},{"d":1529,"v":143700},{"d":1538,"v":148900},{"d":1548,"v":139600},{"d":1557,"v":141600},{"d":1567,"v":147000},{"d":1576,"v":144300},{"d":1586,"v":146200},{"d":1595,"v":148800}],
"c_blue":[{"d":2.5,"v":2000},{"d":6.0,"v":5000},{"d":9.0,"v":8000},{"d":13.2,"v":11000},{"d":16.0,"v":14000},{"d":20.1,"v":17000},{"d":23.0,"v":20000},{"d":27.0,"v":23000},{"d":30.0,"v":26000},{"d":33.9,"v":29000},{"d":37.3,"v":32000},{"d":40.2,"v":35000},{"d":44.5,"v":38000},{"d":47.4,"v":41000},{"d":51.3,"v":44000},{"d":54.2,"v":47000},{"d":58.4,"v":50000},{"d":62.3,"v":54000},{"d":67.6,"v":58000},{"d":71.5,"v":62000},{"d":77.0,"v":66000},{"d":80.8,"v":70000},{"d":86.2,"v":74000},{"d":90.1,"v":78000},{"d":95.5,"v":82000},{"d":99.4,"v":86000},{"d":104.8,"v":90000},{"d":108.6,"v":94000},{"d":114.1,"v":98000},{"d":118.0,"v":102000},{"d":123.4,"v":106000},{"d":127.2,"v":110000},{"d":132.7,"v":114000},{"d":136.5,"v":118000},{"d":141.9,"v":122000},{"d":145.8,"v":126000},{"d":151.2,"v":130000},{"d":155.1,"v":134000},{"d":160.5,"v":138000},{"d":164.3,"v":142000},{"d":169.8,"v":146000},{"d":172.6,"v":149000}],
"c_fit":[{"fit":"wenzel","d":0,"v":0},{"fit":"wenzel","d":174,"v":150000},{"fit":"cassie","d":-119,"v":0},{"fit":"cassie","d":1580,"v":150000},{"fit":"flat","d":-4,"v":0},{"fit":"flat","d":1600,"v":142400}]
},
"vconcat":[
{
"width":472,"height":398,
"view":{"stroke":"#2c4ea3","strokeWidth":2.6},
"title":{"text":"V= 56 µm/s","frame":"group","anchor":"middle","dx":-11,"fontSize":19.5,"fontWeight":"normal","color":"#231f20","baseline":"alphabetic","offset":-8},
"layer":[
{"data":{"name":"a_red"},"mark":{"type":"line","color":"#e8262b","strokeWidth":1.6,"clip":true},
"encoding":{
"x":{"field":"d","type":"quantitative","scale":{"domain":[500,2000],"nice":false,"zero":false},"axis":{"orient":"bottom","values":[500,1000,1500,2000],"format":"d","tickColor":"#2c4ea3","labelPadding":21.5,"title":["Separation distance (nm)","(a)\u00a0\u00a0\u00a0\u00a0\u00a0\u00a0\u00a0\u00a0\u00a0\u00a0\u00a0"],"titleX":239,"titleY":56,"titleBaseline":"alphabetic","titleLineHeight":31}},
"y":{"field":"v","type":"quantitative","scale":{"domain":[0,0.00015],"nice":false,"zero":true},"axis":{"orient":"left","values":[0,0.00005,0.0001,0.00015],"tickColor":"#2c4ea3","labelPadding":11.5,"labelExpr":"datum.value == 0 ? '0\u00a0\u00a0\u00a0\u00a0' : datum.value < 0.00007 ? '5×10⁻⁵' : datum.value < 0.00012 ? '1×10⁻⁴' : '1.5×10⁻⁴'","title":"d./V (s)","titleFontSize":21,"titleX":-70,"titleY":173,"titleBaseline":"middle"}}
}},
{"data":{"name":"a_fit"},"mark":{"type":"point","filled":true,"size":70,"color":"#1e1e1e","opacity":1},
"encoding":{
"x":{"field":"d","type":"quantitative","axis":{"orient":"top","values":[1000,1500],"labels":false,"title":null,"tickColor":"#2c4ea3"}},
"y":{"field":"v","type":"quantitative","axis":{"orient":"right","values":[0.00005,0.0001],"labels":false,"title":null,"tickColor":"#2c4ea3"}}
}},
{"data":{"values":[{}]},"mark":{"type":"rule","color":"#e8262b","strokeWidth":2},"encoding":{"x":{"datum":1250,"type":"quantitative","axis":null},"x2":{"datum":1410},"y":{"datum":0.0001319,"type":"quantitative","axis":null}}},
{"data":{"values":[{}]},"mark":{"type":"point","filled":true,"size":70,"color":"#1e1e1e","opacity":1},"encoding":{"x":{"datum":1329,"type":"quantitative","axis":null},"y":{"datum":0.0001212,"type":"quantitative","axis":null}}},
{"data":{"values":[{}]},"mark":{"type":"text","align":"left","baseline":"middle","fontSize":21.5,"text":"Flat silicon surface"},"encoding":{"x":{"datum":1453,"type":"quantitative","axis":null},"y":{"datum":0.0001319,"type":"quantitative","axis":null}}},
{"data":{"values":[{}]},"mark":{"type":"text","align":"left","baseline":"middle","fontSize":21.5,"text":"Fitting points"},"encoding":{"x":{"datum":1453,"type":"quantitative","axis":null},"y":{"datum":0.0001212,"type":"quantitative","axis":null}}}
]
},
{
"width":472,"height":398,
"layer":[
{"data":{"name":"b_flat"},"mark":{"type":"line","color":"#e8292d","strokeWidth":2.6,"clip":true},
"encoding":{
"x":{"field":"d","type":"quantitative","scale":{"domain":[0,2000],"nice":false,"zero":false},"axis":{"orient":"bottom","values":[0,500,1000,1500,2000],"labelExpr":"datum.value == 500 || datum.value == 1500 ? '' : format(datum.value, 'd')","labelPadding":18.5,"title":["Separation distance (nm)","(b)\u00a0\u00a0\u00a0\u00a0\u00a0\u00a0\u00a0\u00a0\u00a0\u00a0"],"titleX":241,"titleY":60,"titleBaseline":"alphabetic","titleLineHeight":35}},
"y":{"field":"v","type":"quantitative","scale":{"domain":[0,0.0001],"nice":false,"zero":true},"axis":{"orient":"left","values":[0,0.00002,0.00004,0.00006,0.00008,0.0001],"labelPadding":11.5,"labelExpr":"datum.value == 0 ? '0\u00a0\u00a0\u00a0' : datum.value > 0.00009 ? '1×10⁻⁴' : format(datum.value * 100000, '.0f') + '×10⁻⁵'","title":"Fₕ/V (sN/m)","titleFontSize":23.5,"titleX":-70,"titleY":190,"titleBaseline":"middle"}}
}},
{"data":{"name":"b_cassie"},"mark":{"type":"line","color":"#6bbf47","strokeWidth":2.6,"clip":true},
"encoding":{
"x":{"field":"d","type":"quantitative","axis":{"orient":"top","values":[500,1000,1500],"labels":false,"title":null}},
"y":{"field":"v","type":"quantitative","axis":{"orient":"right","values":[0.00002,0.00004,0.00006,0.00008],"labels":false,"title":null}}
}},
{"data":{"name":"b_wenzel"},"mark":{"type":"line","color":"#25429a","strokeWidth":2.6,"clip":true},
"encoding":{"x":{"field":"d","type":"quantitative","axis":null},"y":{"field":"v","type":"quantitative","axis":null}}},
{"data":{"values":[{}]},"mark":{"type":"rule","color":"#231f20","strokeWidth":1.3},"encoding":{"x":{"datum":539,"type":"quantitative","axis":null},"x2":{"datum":333},"y":{"datum":0.0000386,"type":"quantitative","axis":null}}},
{"data":{"values":[{}]},"mark":{"type":"rule","color":"#231f20","strokeWidth":1.3},"encoding":{"x":{"datum":702,"type":"quantitative","axis":null},"x2":{"datum":347},"y":{"datum":0.0000281,"type":"quantitative","axis":null}}},
{"data":{"values":[{}]},"mark":{"type":"rule","color":"#231f20","strokeWidth":1.3},"encoding":{"x":{"datum":865,"type":"quantitative","axis":null},"x2":{"datum":99},"y":{"datum":0.0000188,"type":"quantitative","axis":null}}},
{"data":{"values":[{}]},"mark":{"type":"point","shape":"M0,0L1,-0.42M0,0L1,0.42","size":220,"stroke":"#231f20","strokeWidth":1.3,"filled":false,"opacity":1},"encoding":{"x":{"datum":333,"type":"quantitative","axis":null},"y":{"datum":0.0000386,"type":"quantitative","axis":null}}},
{"data":{"values":[{}]},"mark":{"type":"point","shape":"M0,0L1,-0.42M0,0L1,0.42","size":220,"stroke":"#231f20","strokeWidth":1.3,"filled":false,"opacity":1},"encoding":{"x":{"datum":347,"type":"quantitative","axis":null},"y":{"datum":0.0000281,"type":"quantitative","axis":null}}},
{"data":{"values":[{}]},"mark":{"type":"point","shape":"M0,0L1,-0.42M0,0L1,0.42","size":220,"stroke":"#231f20","strokeWidth":1.3,"filled":false,"opacity":1},"encoding":{"x":{"datum":99,"type":"quantitative","axis":null},"y":{"datum":0.0000188,"type":"quantitative","axis":null}}},
{"data":{"values":[{}]},"mark":{"type":"text","align":"left","baseline":"middle","fontSize":21,"text":"Flat silicon surface"},"encoding":{"x":{"datum":564,"type":"quantitative","axis":null},"y":{"datum":0.0000386,"type":"quantitative","axis":null}}},
{"data":{"values":[{}]},"mark":{"type":"text","align":"left","baseline":"middle","fontSize":21,"text":"On pillar (Cassie part)"},"encoding":{"x":{"datum":723,"type":"quantitative","axis":null},"y":{"datum":0.0000281,"type":"quantitative","axis":null}}},
{"data":{"values":[{}]},"mark":{"type":"text","align":"left","baseline":"middle","fontSize":21,"text":"On pillar (Wenzel part)"},"encoding":{"x":{"datum":908,"type":"quantitative","axis":null},"y":{"datum":0.0000188,"type":"quantitative","axis":null}}}
]
},
{
"width":472,"height":396,
"layer":[
{"data":{"name":"c_red"},"mark":{"type":"point","shape":"square","filled":true,"size":22,"color":"#ec2327","opacity":1,"clip":true},
"encoding":{
"x":{"field":"d","type":"quantitative","scale":{"domain":[-200,1600],"nice":false,"zero":false},"axis":{"orient":"bottom","values":[-200,0,200,400,600,800,1000,1200,1400,1600],"tickSize":-8.5,"labelExpr":"indexof([200,600,1000,1400], datum.value) >= 0 ? '' : datum.value < 0 ? '-200' : format(datum.value, 'd')","labelPadding":14,"title":["Separation distance (nm)","(c)\u00a0\u00a0\u00a0\u00a0\u00a0\u00a0\u00a0\u00a0\u00a0\u00a0\u00a0"],"titleX":243,"titleY":46,"titleBaseline":"alphabetic","titleLineHeight":28}},
"y":{"field":"v","type":"quantitative","scale":{"domain":[0,150000],"nice":false,"zero":true},"axis":{"orient":"left","values":[0,50000,100000,150000],"tickSize":-8.5,"labelPadding":11,"labelExpr":"datum.value == 0 ? '0\u00a0\u00a0\u00a0' : datum.value > 120000 ? '1.5×10⁵' : datum.value > 70000 ? '1×10⁵' : '5×10⁴'","title":"V/Fₕ (m/sN)","titleFontSize":23.5,"titleX":-68,"titleY":200,"titleBaseline":"middle"}}
}},
{"data":{"name":"c_green"},"mark":{"type":"circle","size":17,"color":"#3dae4a","opacity":1,"clip":true},
"encoding":{
"x":{"field":"d","type":"quantitative","axis":{"orient":"top","values":[0,400,800,1200],"tickSize":-8.5,"labels":false,"title":null}},
"y":{"field":"v","type":"quantitative","axis":{"orient":"right","values":[50000,100000],"tickSize":-8.5,"labels":false,"title":null}}
}},
{"data":{"name":"c_fit"},"mark":{"type":"line","color":"#111111","strokeWidth":2.4,"clip":true},
"encoding":{"x":{"field":"d","type":"quantitative","axis":null},"y":{"field":"v","type":"quantitative","axis":null},"detail":{"field":"fit","type":"nominal"}}},
{"data":{"name":"c_blue"},"mark":{"type":"point","shape":"triangle-up","filled":true,"size":50,"color":"#3345a6","opacity":0.9,"clip":true},
"encoding":{"x":{"field":"d","type":"quantitative","axis":null},"y":{"field":"v","type":"quantitative","axis":null}}},
{"data":{"values":[{}]},"mark":{"type":"rule","color":"#231f20","strokeWidth":1.3},"encoding":{"x":{"datum":366,"type":"quantitative","axis":null},"x2":{"datum":200},"y":{"datum":132300,"type":"quantitative","axis":null}}},
{"data":{"values":[{}]},"mark":{"type":"rule","color":"#231f20","strokeWidth":1.3},"encoding":{"x":{"datum":895,"type":"quantitative","axis":null},"x2":{"datum":1024},"y":{"datum":107700,"type":"quantitative","axis":null}}},
{"data":{"values":[{}]},"mark":{"type":"rule","color":"#231f20","strokeWidth":1.3},"encoding":{"x":{"datum":906,"type":"quantitative","axis":null},"x2":{"datum":714},"y":{"datum":56900,"type":"quantitative","axis":null}}},
{"data":{"values":[{}]},"mark":{"type":"rule","color":"#231f20","strokeWidth":1.3},"encoding":{"x":{"datum":118,"type":"quantitative","axis":null},"x2":{"datum":-111},"y":{"datum":63500,"type":"quantitative","axis":null},"y2":{"datum":6700}}},
{"data":{"values":[{}]},"mark":{"type":"point","shape":"M0,0L1,-0.42M0,0L1,0.42","size":220,"stroke":"#231f20","strokeWidth":1.3,"filled":false,"opacity":1},"encoding":{"x":{"datum":200,"type":"quantitative","axis":null},"y":{"datum":132300,"type":"quantitative","axis":null}}},
{"data":{"values":[{}]},"mark":{"type":"point","shape":"M0,0L1,-0.42M0,0L1,0.42","size":220,"stroke":"#231f20","strokeWidth":1.3,"filled":false,"opacity":1,"angle":180},"encoding":{"x":{"datum":1024,"type":"quantitative","axis":null},"y":{"datum":107700,"type":"quantitative","axis":null}}},
{"data":{"values":[{}]},"mark":{"type":"point","shape":"M0,0L1,-0.42M0,0L1,0.42","size":220,"stroke":"#231f20","strokeWidth":1.3,"filled":false,"opacity":1},"encoding":{"x":{"datum":714,"type":"quantitative","axis":null},"y":{"datum":56900,"type":"quantitative","axis":null}}},
{"data":{"values":[{}]},"mark":{"type":"point","shape":"M0,0L1,-0.42M0,0L1,0.42","size":220,"stroke":"#231f20","strokeWidth":1.3,"filled":false,"opacity":1,"angle":291.8},"encoding":{"x":{"datum":-111,"type":"quantitative","axis":null},"y":{"datum":6700,"type":"quantitative","axis":null}}},
{"data":{"values":[{}]},"mark":{"type":"text","align":"left","baseline":"middle","fontSize":21,"text":"On pillar (Wenzel part)"},"encoding":{"x":{"datum":391,"type":"quantitative","axis":null},"y":{"datum":132300,"type":"quantitative","axis":null}}},
{"data":{"values":[{}]},"mark":{"type":"text","align":"left","baseline":"middle","fontSize":21,"text":"On pillar (Cassie part)"},"encoding":{"x":{"datum":153,"type":"quantitative","axis":null},"y":{"datum":107700,"type":"quantitative","axis":null}}},
{"data":{"values":[{}]},"mark":{"type":"text","align":"left","baseline":"middle","fontSize":21,"text":"Flat silicon surface"},"encoding":{"x":{"datum":931,"type":"quantitative","axis":null},"y":{"datum":56900,"type":"quantitative","axis":null}}},
{"data":{"values":[{}]},"mark":{"type":"text","align":"left","baseline":"alphabetic","fontSize":21,"text":"b"},"encoding":{"x":{"datum":124,"type":"quantitative","axis":null},"y":{"datum":67000,"type":"quantitative","axis":null}}},
{"data":{"values":[{}]},"mark":{"type":"text","align":"left","baseline":"alphabetic","fontSize":15,"text":"eff"},"encoding":{"x":{"datum":169,"type":"quantitative","axis":null},"y":{"datum":65500,"type":"quantitative","axis":null}}},
{"data":{"values":[{}]},"mark":{"type":"text","align":"left","baseline":"alphabetic","fontSize":21,"text":"= 119 nm"},"encoding":{"x":{"datum":270,"type":"quantitative","axis":null},"y":{"datum":67000,"type":"quantitative","axis":null}}}
]
}
]
}
